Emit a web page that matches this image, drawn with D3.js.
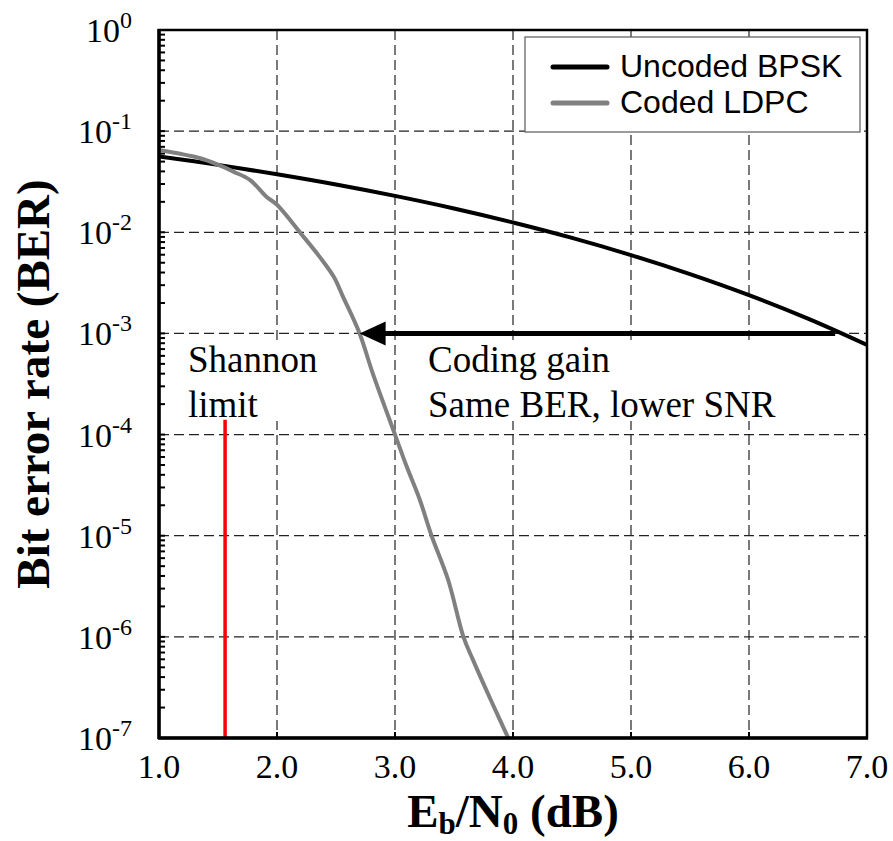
<!DOCTYPE html>
<html>
<head>
<meta charset="utf-8">
<script src="https://cdn.jsdelivr.net/npm/d3@7"></script>
<style>
  body { margin: 0; background: #fff; }
  svg { display: block; }
</style>
</head>
<body>
<div id="chart"></div>
<script>
// BER curves (Eb/N0 in dB, BER)
const bpskEbNo = [1.0, 1.5, 2.0, 2.5, 3.0, 3.5, 4.0, 4.5, 5.0, 5.5, 6.0, 6.5, 7.0]
const bpskBer = [0.0563, 0.0464, 0.0375, 0.0297, 0.0229, 0.0172, 0.0125, 0.0088, 0.00595, 0.00386, 0.00239, 0.0014, 0.00077]

const ldpcEbNo = [1.0, 1.35, 1.52, 1.63, 1.77, 1.91, 2.0, 2.2, 2.36, 2.48, 2.56, 2.7, 2.81, 3.0, 3.1, 3.21, 3.31, 3.45, 3.58, 3.66, 3.81, 3.96]
const ldpcBer = [0.0652, 0.054, 0.0456, 0.0398, 0.033, 0.0225, 0.0187, 0.0098, 0.00575, 0.00365, 0.0023, 0.001, 4.08e-4, 1e-4, 4.8e-5, 2.27e-5, 1e-5, 3.67e-6, 1e-6, 5.95e-7, 2.4e-7, 1e-7]

const xTicks = [1, 2, 3, 4, 5, 6, 7]
const yExponents = [0, -1, -2, -3, -4, -5, -6, -7]

const shannonLimit = 1.56
const shannonTop = 1.4e-4
const arrowFrom = 6.73
const arrowTo = 2.7
const arrowBer = 1e-3

const series = [
  { name: "Uncoded BPSK", x: bpskEbNo, y: bpskBer, color: "#000000" },
  { name: "Coded LDPC", x: ldpcEbNo, y: ldpcBer, color: "#808080" },
]

const width = 893
const height = 841
const margin = { top: 30, right: 26, bottom: 103, left: 159 }
const serif = "'Liberation Serif', 'Times New Roman', serif"
const sans = "'Liberation Sans', Arial, sans-serif"

const x = d3.scaleLinear().domain([1, 7]).range([margin.left, width - margin.right])
const y = d3.scaleLog().domain([1e-7, 1]).range([height - margin.bottom, margin.top])

const svg = d3.select("#chart").append("svg")
  .attr("width", width)
  .attr("height", height)

svg.append("defs").append("clipPath").attr("id", "plot-clip")
  .append("rect")
  .attr("x", x(1)).attr("y", y(1))
  .attr("width", x(7) - x(1)).attr("height", y(1e-7) - y(1))

// grid
const grid = svg.append("g").attr("stroke", "#222").attr("stroke-width", 1.2).attr("stroke-dasharray", "10,5")
grid.selectAll(".vgrid").data(xTicks.slice(1, -1)).enter().append("line")
  .attr("x1", (d) => x(d)).attr("x2", (d) => x(d))
  .attr("y1", y(1)).attr("y2", y(1e-7))
grid.selectAll(".hgrid").data(yExponents.slice(1, -1)).enter().append("line")
  .attr("x1", x(1)).attr("x2", x(7))
  .attr("y1", (d) => y(Math.pow(10, d))).attr("y2", (d) => y(Math.pow(10, d)))

// minor ticks on the left axis, pointing inward
const minor = []
yExponents.slice(1).forEach((e) => {
  for (let m = 1; m <= 9; m++) minor.push(m * Math.pow(10, e))
})
svg.append("g").selectAll("line").data(minor).enter().append("line")
  .attr("x1", x(1)).attr("x2", x(1) + 6)
  .attr("y1", (d) => y(d)).attr("y2", (d) => y(d))
  .attr("stroke", "#000").attr("stroke-width", 2)

svg.append("g").selectAll("line").data(xTicks).enter().append("line")
  .attr("x1", (d) => x(d)).attr("x2", (d) => x(d))
  .attr("y1", y(1e-7)).attr("y2", y(1e-7) - 6)
  .attr("stroke", "#000").attr("stroke-width", 2)

// white boxes behind annotation text
svg.append("rect").attr("x", 184).attr("y", 342).attr("width", 130).attr("height", 79).attr("fill", "#fff")
svg.append("rect").attr("x", 424).attr("y", 343).attr("width", 358).attr("height", 78).attr("fill", "#fff")

const plot = svg.append("g").attr("clip-path", "url(#plot-clip)")

const line = d3.line()
  .x((d) => x(d[0]))
  .y((d) => y(d[1]))
  .curve(d3.curveCatmullRom.alpha(0.5))

plot.selectAll(".curve").data(series).enter().append("path")
  .attr("class", "curve")
  .attr("fill", "none")
  .attr("stroke", (d) => d.color)
  .attr("stroke-width", 4)
  .attr("d", (d) => line(d.x.map((v, i) => [v, d.y[i]])))

// Shannon limit
plot.append("line")
  .attr("x1", x(shannonLimit)).attr("x2", x(shannonLimit))
  .attr("y1", y(shannonTop)).attr("y2", y(1e-7))
  .attr("stroke", "#ff0000").attr("stroke-width", 3.5)

// coding gain arrow
const headLen = 26
plot.append("line")
  .attr("x1", x(arrowFrom)).attr("x2", x(arrowTo) + headLen - 2)
  .attr("y1", y(arrowBer)).attr("y2", y(arrowBer))
  .attr("stroke", "#000").attr("stroke-width", 5)
plot.append("path")
  .attr("d", `M${x(arrowTo)},${y(arrowBer)} L${x(arrowTo) + headLen},${y(arrowBer) - 12} L${x(arrowTo) + headLen},${y(arrowBer) + 12} Z`)
  .attr("fill", "#000")

// frame
svg.append("rect")
  .attr("x", x(1)).attr("y", y(1))
  .attr("width", x(7) - x(1)).attr("height", y(1e-7) - y(1))
  .attr("fill", "none").attr("stroke", "#000").attr("stroke-width", 2.5)
svg.append("line").attr("x1", x(1)).attr("x2", x(1)).attr("y1", y(1) - 1).attr("y2", y(1e-7) + 1)
  .attr("stroke", "#000").attr("stroke-width", 3.5)
svg.append("line").attr("x1", x(1) - 1).attr("x2", x(7) + 1).attr("y1", y(1e-7)).attr("y2", y(1e-7))
  .attr("stroke", "#000").attr("stroke-width", 3.5)

// tick labels
svg.append("g").selectAll("text").data(xTicks).enter().append("text")
  .attr("x", (d) => x(d)).attr("y", 778)
  .attr("text-anchor", "middle")
  .attr("font-family", serif).attr("font-size", 34)
  .text((d) => d.toFixed(1))

const yl = svg.append("g").selectAll("text").data(yExponents).enter().append("text")
  .attr("x", 132).attr("y", (d) => y(Math.pow(10, d)) + 12)
  .attr("text-anchor", "end")
  .attr("font-family", serif).attr("font-size", 34)
yl.append("tspan").text("10")
yl.append("tspan").attr("font-size", 24).attr("dy", -14).text((d) => d)

// annotations
const note = (tx, ty, str) => svg.append("text")
  .attr("x", tx).attr("y", ty)
  .attr("font-family", serif).attr("font-size", 37)
  .text(str)
note(188, 372, "Shannon")
note(188, 417, "limit")
note(428, 372, "Coding gain")
note(428, 417, "Same BER, lower SNR")

// axis titles
const xt = svg.append("text")
  .attr("x", (x(1) + x(7)) / 2).attr("y", 827)
  .attr("text-anchor", "middle")
  .attr("font-family", serif).attr("font-size", 47).attr("font-weight", "bold")
xt.append("tspan").text("E")
xt.append("tspan").attr("font-size", 31).attr("dy", 7).text("b")
xt.append("tspan").attr("dy", -7).text("/N")
xt.append("tspan").attr("font-size", 31).attr("dy", 7).text("0")
xt.append("tspan").attr("dy", -7).text(" (dB)")

svg.append("text")
  .attr("transform", `translate(49,${(y(1) + y(1e-7)) / 2}) rotate(-90)`)
  .attr("text-anchor", "middle")
  .attr("font-family", serif).attr("font-size", 47).attr("font-weight", "bold")
  .text("Bit error rate (BER)")

// legend
const legend = svg.append("g")
legend.append("rect")
  .attr("x", 525).attr("y", 37).attr("width", 335).attr("height", 95)
  .attr("fill", "#fff").attr("stroke", "#666").attr("stroke-width", 1.3)
const items = legend.selectAll(".item").data(series).enter().append("g")
  .attr("transform", (d, i) => `translate(0,${67 + i * 36})`)
items.append("line")
  .attr("x1", 553).attr("x2", 607)
  .attr("stroke", (d) => d.color).attr("stroke-width", 5).attr("stroke-linecap", "round")
items.append("text")
  .attr("x", 620).attr("y", 10)
  .attr("font-family", sans).attr("font-size", 32)
  .text((d) => d.name)
</script>
</body>
</html>
